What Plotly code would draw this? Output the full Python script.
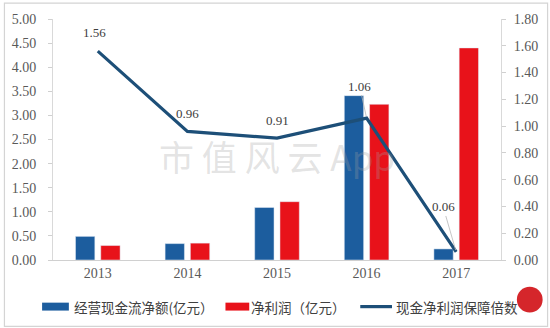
import plotly.graph_objects as go

# Annual figures (亿元) and the cash-to-profit coverage ratio
years = ["2013", "2014", "2015", "2016", "2017"]
cash_flow = [0.49, 0.34, 1.09, 3.41, 0.23]
net_profit = [0.30, 0.35, 1.21, 3.23, 4.40]
coverage = [1.56, 0.96, 0.91, 1.06, 0.06]

left_ticks = [0, 0.5, 1.0, 1.5, 2.0, 2.5, 3.0, 3.5, 4.0, 4.5, 5.0]
right_ticks = [0, 0.2, 0.4, 0.6, 0.8, 1.0, 1.2, 1.4, 1.6, 1.8]

BLUE = "#1C5D9E"
RED = "#E8121A"
LINE = "#1D4F78"
GREY_TXT = "#595959"
NUM_FONT = "Liberation Serif"
CJK_FONT = "Noto Sans CJK SC"

W, H = 550, 328
L, R, T, B = 50, 48, 17, 68
PW, PH = W - L - R, H - T - B


def px(x):
    return (x - L) / PW


def py(y):
    return (T + PH - y) / PH


fig = go.Figure()
fig.add_trace(go.Bar(x=years, y=cash_flow, marker_color=BLUE, yaxis="y",
                     name="经营现金流净额(亿元）", showlegend=False))
fig.add_trace(go.Bar(x=years, y=net_profit, marker_color=RED, yaxis="y",
                     name="净利润（亿元）", showlegend=False))
fig.add_trace(go.Scatter(x=years, y=coverage, mode="lines", yaxis="y2",
                         line=dict(color=LINE, width=3.2),
                         name="现金净利润保障倍数", showlegend=False))

annotations = []
# value labels on the coverage line (x given as category index)
label_offsets = {"2013": (-3, -19, False), "2014": (0, -18, False),
                 "2015": (0, -18, False), "2016": (-7, -32, True),
                 "2017": (-13, -45, True)}
for i, (yr, v) in enumerate(zip(years, coverage)):
    dx, dy, arrow = label_offsets[yr]
    if arrow:
        annotations.append(dict(x=i, y=v, xref="x", yref="y2", text=f"{v:.2f}",
                                showarrow=True, ax=dx, ay=dy, arrowhead=0,
                                arrowwidth=0.8, arrowcolor="#B8B8B8", standoff=2,
                                font=dict(family=NUM_FONT, size=13, color="#404040")))
    else:
        annotations.append(dict(x=i, y=v, xref="x", yref="y2", text=f"{v:.2f}",
                                showarrow=False, xshift=dx, yshift=-dy,
                                font=dict(family=NUM_FONT, size=13, color="#404040")))

# watermark
annotations.append(dict(x=px(276), y=py(155), xref="paper", yref="paper",
                        text="市 值 风 云 App", showarrow=False,
                        font=dict(family=CJK_FONT, size=35, color="rgba(160,160,160,0.3)")))

# legend, drawn by hand
legend_font = dict(family=CJK_FONT, size=13.5, color="#404040")
ly = 307
shapes = [
    dict(type="rect", xref="paper", yref="paper", x0=px(39), x1=px(66),
         y0=py(303), y1=py(311), fillcolor=BLUE, line=dict(width=0)),
    dict(type="rect", xref="paper", yref="paper", x0=px(224), x1=px(248),
         y0=py(303), y1=py(311), fillcolor=RED, line=dict(width=0)),
    dict(type="line", xref="paper", yref="paper", x0=px(360), x1=px(392),
         y0=py(ly), y1=py(ly), line=dict(color=LINE, width=3.2)),
    # outer frame
    dict(type="rect", xref="paper", yref="paper", x0=px(1), x1=px(549),
         y0=py(1), y1=py(327), line=dict(color="#D4D4D4", width=1.2)),
    # round seal in the corner
    dict(type="circle", xref="paper", yref="paper", x0=px(518), x1=px(544),
         y0=py(287), y1=py(313), fillcolor="#D5262B", line=dict(width=0)),
]
for x0, txt in [(69, "经营现金流净额(亿元）"), (248, "净利润（亿元）"), (394, "现金净利润保障倍数")]:
    annotations.append(dict(x=px(x0), y=py(ly), xref="paper", yref="paper",
                            xanchor="left", yanchor="middle", text=txt,
                            showarrow=False, font=legend_font))

tick_font = dict(family=NUM_FONT, size=14, color=GREY_TXT)
fig.update_layout(
    width=W, height=H,
    margin=dict(l=L, r=R, t=T, b=B),
    paper_bgcolor="white", plot_bgcolor="white",
    barmode="group", bargap=0.436, bargroupgap=0.235,
    xaxis=dict(type="category", range=[-0.5, 4.5], showline=True,
               linecolor="#D0D0D0", linewidth=1, ticks="", showgrid=False,
               tickfont=tick_font),
    yaxis=dict(range=[0, 5], tickvals=left_ticks, tickformat=".2f",
               showline=True, linecolor="#D9D9D9", linewidth=1,
               ticks="outside", ticklen=4, tickcolor="#D0D0D0",
               ticklabelstandoff=9,
               showgrid=False, zeroline=False, tickfont=tick_font),
    yaxis2=dict(range=[0, 1.8], tickvals=right_ticks, tickformat=".2f",
                overlaying="y", side="right",
                showline=True, linecolor="#D9D9D9", linewidth=1,
                ticks="outside", ticklen=4, tickcolor="#D0D0D0",
                ticklabelstandoff=5,
                showgrid=False, zeroline=False, tickfont=tick_font),
    annotations=annotations,
    shapes=shapes,
)

fig.write_html("out.html")
